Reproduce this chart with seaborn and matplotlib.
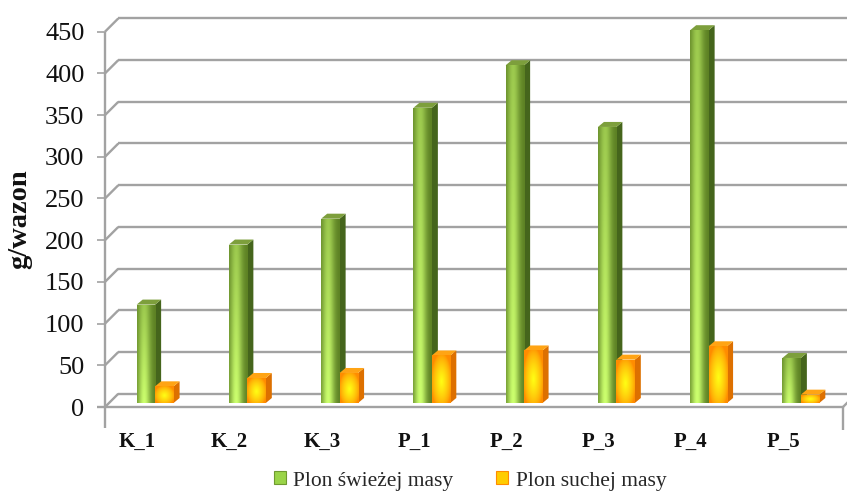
import numpy as np
import pandas as pd
import matplotlib
matplotlib.use("Agg")
import matplotlib.pyplot as plt
import seaborn as sns
from matplotlib.transforms import ScaledTranslation, IdentityTransform
from matplotlib.patches import Polygon, Patch
from matplotlib.lines import Line2D
from matplotlib.colors import to_rgb

# --- data -------------------------------------------------------------
categories = ["K_1", "K_2", "K_3", "P_1", "P_2", "P_3", "P_4", "P_5"]
fresh_mass = [118, 190, 221, 354, 405, 331, 447, 54]   # Plon świeżej masy
dry_mass = [20, 30, 36, 57, 63, 52, 68, 10]            # Plon suchej masy
series_names = ["Plon świeżej masy", "Plon suchej masy"]
y_ticks = [0, 50, 100, 150, 200, 250, 300, 350, 400, 450]
y_label = "g/wazon"

df = pd.DataFrame({
    "kategoria": categories * 2,
    "wartosc": fresh_mass + dry_mass,
    "seria": [series_names[0]] * len(categories) + [series_names[1]] * len(categories),
})

# --- style ------------------------------------------------------------
sns.set_theme(style="white")
plt.rcParams["font.family"] = ["Liberation Serif", "DejaVu Serif"]

GRID = "#a2a2a2"
GREEN_BASE = "#7fae3a"
ORANGE_BASE = "#ffa200"

W, H = 847, 493
fig = plt.figure(figsize=(W / 100, H / 100), dpi=100)
fig.patch.set_facecolor("white")

# front plane of the 3D box (pixels)
x_left, x_right = 105, 843
y_zero, y_top = 407, 31.7
ax = fig.add_axes([x_left / W, (H - y_zero) / H, (x_right - x_left) / W, (y_zero - y_top) / H])
ax.set_facecolor("none")

sns.barplot(data=df, x="kategoria", y="wartosc", hue="seria",
            palette=[GREEN_BASE, ORANGE_BASE], saturation=1, width=0.4,
            dodge=True, legend=False, ax=ax, zorder=3)

ax.set_xlim(-0.5, len(categories) - 0.5)
ax.set_ylim(0, 450)
for s in ax.spines.values():
    s.set_visible(False)

# depth offsets (pixels)
back_dx = back_dy = 13.3
bar_shift = 4.0
bar_dx, bar_dy = 6.0, 5.0

px = lambda v: v / 100.0
bar_tr = ax.transData + ScaledTranslation(px(bar_shift), px(bar_shift), fig.dpi_scale_trans)
ident = IdentityTransform()


def add_disp_line(xs, ys, **kw):
    ln = Line2D(xs, ys, transform=ident, clip_on=False, color=GRID, lw=1.7,
                solid_capstyle="butt", zorder=1, **kw)
    ax.add_line(ln)


# --- walls and gridlines ---------------------------------------------
for v in y_ticks:
    fx, fy = ax.transData.transform((-0.5, v))
    bx, by = fx + back_dx, fy + back_dy
    add_disp_line([bx, W + 20], [by, by])
    add_disp_line([fx, bx], [fy, by])

fx0, fy0 = ax.transData.transform((-0.5, 0))
rx0, _ = ax.transData.transform((len(categories) - 0.5, 0))
_, fy450 = ax.transData.transform((-0.5, 450))
add_disp_line([fx0 - 8, rx0], [fy0, fy0])                    # floor front edge
add_disp_line([rx0, rx0 + back_dx], [fy0, fy0 + back_dy])   # floor right edge
add_disp_line([fx0, fx0], [fy450, fy0 - 21])                # value axis
add_disp_line([rx0, rx0], [fy0, fy0 - 23])


# --- shaded 3D bars --------------------------------------------------
def green_img(nx=48, ny=120):
    x = np.linspace(0, 1, nx)[None, :]
    y = np.linspace(0, 1, ny)[:, None]
    f = np.exp(-((x - 0.38) / 0.34) ** 2)
    g = 1.0 - 0.42 * y
    t = (f * g)[..., None]
    dark = np.array(to_rgb("#5a7e22"))
    light = np.array(to_rgb("#ccff6e"))
    return dark + (light - dark) * t


def orange_img(nx=48, ny=120):
    x = np.linspace(0, 1, nx)[None, :]
    y = np.linspace(0, 1, ny)[:, None]
    r = np.sqrt(((x - 0.5) / 0.55) ** 2 + ((y - 0.45) / 0.6) ** 2)
    t = np.clip(1 - r, 0, 1) ** 0.7
    t = t[..., None]
    edge = np.array(to_rgb("#ff8c00"))
    core = np.array(to_rgb("#ffff14"))
    return edge + (core - edge) * t


n = len(categories)
bars = list(ax.patches)
for k, patch in enumerate(bars):
    is_green = k < n
    z = 3 if is_green else 4
    x0, w, h = patch.get_x(), patch.get_width(), patch.get_height()
    patch.set_transform(bar_tr)
    patch.set_zorder(z)
    patch.set_linewidth(0)
    patch.set_clip_on(False)

    img = green_img() if is_green else orange_img()
    im = ax.imshow(img, extent=[x0, x0 + w, 0, h], origin="lower",
                   aspect="auto", transform=bar_tr, zorder=z + 0.1,
                   interpolation="bilinear")
    im.set_clip_path(patch)

    (xl, yb) = bar_tr.transform((x0, 0))
    (xr, yt) = bar_tr.transform((x0 + w, h))
    side_col = "#45651c" if is_green else "#dd7000"
    top_col = "#7d9f3c" if is_green else "#ffa414"
    side = Polygon([[xr, yb], [xr + bar_dx, yb + bar_dy], [xr + bar_dx, yt + bar_dy], [xr, yt]],
                   closed=True, transform=ident, facecolor=side_col, edgecolor="none",
                   clip_on=False, zorder=z)
    top = Polygon([[xl, yt], [xr, yt], [xr + bar_dx, yt + bar_dy], [xl + bar_dx, yt + bar_dy]],
                  closed=True, transform=ident, facecolor=top_col, edgecolor="none",
                  clip_on=False, zorder=z)
    ax.add_patch(side)
    ax.add_patch(top)

ax.set_xlim(-0.5, n - 0.5)
ax.set_ylim(0, 450)

# --- axes text -------------------------------------------------------
ax.set_yticks(y_ticks)
ax.set_yticklabels([str(t) for t in y_ticks], fontsize=19, color="#111111")
ax.tick_params(axis="y", length=5.8, width=1.2, color=GRID, direction="out", pad=9, left=True)

ax.set_xticks(np.arange(n) - 0.15)
ax.set_xticklabels(categories, fontsize=15, fontweight="bold", color="#111111")
ax.tick_params(axis="x", length=0, pad=18)
ax.set_xlabel("")
ax.set_ylabel("")

fig.text(20 / W, 1 - 219 / H, y_label, rotation=90, ha="center", va="center",
         fontsize=20.5, fontweight="bold", color="#111111")

handles = [Patch(facecolor="#9ad448", edgecolor="#6f9a30", linewidth=0.8),
           Patch(facecolor="#ffcc00", edgecolor="#ff8c00", linewidth=0.8)]
fig.legend(handles, series_names, loc="center", bbox_to_anchor=(470 / W, 1 - 481 / H),
           ncol=2, frameon=False, fontsize=15.5, handlelength=0.55, handleheight=0.55,
           handletextpad=0.35, columnspacing=2.0, borderaxespad=0)

fig.savefig("out.png", dpi=100, facecolor="white")
